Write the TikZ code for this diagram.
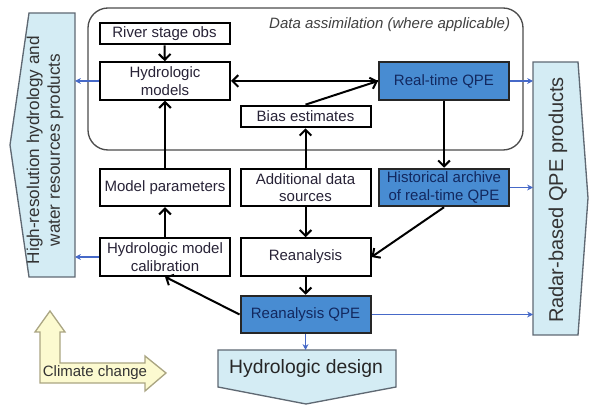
\documentclass[tikz,border=0pt]{standalone}
\usepackage{fontspec}
\setmainfont{Liberation Sans}
\usetikzlibrary{arrows.meta, calc}
\definecolor{QpeColor}{RGB}{72,140,210}
\definecolor{QpeText}{RGB}{18,40,95}
\definecolor{ProductColor}{RGB}{212,236,244}
\definecolor{ProductLine}{RGB}{95,105,115}
\definecolor{FlowColor}{RGB}{70,105,200}
\definecolor{ClimateColor}{RGB}{252,250,208}
\definecolor{ClimateLine}{RGB}{170,165,130}
\definecolor{TextColor}{RGB}{40,35,55}
\tikzstyle{flow} = [line width=1.2pt, -{Straight Barb[length=3.5pt,width=7pt]}]
\tikzstyle{out flow} = [FlowColor, line width=0.9pt, -{Stealth[length=3.5pt,width=3.5pt]}]
\tikzset{
  procbox/.style={draw=black, line width=1.2pt, fill=white, minimum width=78pt, minimum height=22.5pt, align=center, inner sep=1pt, text=TextColor, font=\fontsize{9}{10.5}\selectfont},
  lowbox/.style={procbox, minimum height=13pt},
  qpebox/.style={procbox, fill=QpeColor, draw=black!85, text=QpeText},
  product/.style={fill=ProductColor, draw=ProductLine, line width=0.8pt},
  assim frame/.style={draw=black!70, line width=0.8pt, rounded corners=12pt}
}

\begin{document}
\begin{tikzpicture}[x=0.6pt, y=-0.6pt]
    \useasboundingbox (0,0) rectangle (589,405);

    % Data assimilation frame
    \draw[assim frame] (88,8) rectangle (523,150);
    \node[anchor=east, text=black!75, font=\itshape\fontsize{9}{10}\selectfont] (assimlabel) at (516,25) {Data assimilation (where applicable)};

    % Product shapes
    \draw[product] (75,13) -- (29,13) -- (10,145) -- (29,277) -- (75,277) -- cycle;
    \node[rotate=90, align=center, text=black!80, font=\fontsize{10.3}{12.5}\selectfont] (hires) at (45,150) {High-resolution hydrology and\\water resources products};
    \coordinate (hiresR) at (75,0);

    \draw[product] (533,62) -- (578,62) -- (588,198) -- (578,335) -- (533,335) -- cycle;
    \node[rotate=90, text=black!80, font=\fontsize{12}{14}\selectfont] (radar) at (558,200) {Radar-based QPE products};
    \coordinate (radarL) at (533,0);

    \draw[product] (218,350) -- (396,350) -- (396,387) -- (306,404) -- (218,387) -- cycle;
    \node[text=black!85, font=\fontsize{11.6}{13}\selectfont] (design) at (306,369) {Hydrologic design};
    \coordinate (designTop) at (306,350);

    % Climate change arrows
    \draw[fill=ClimateColor, draw=ClimateLine, line width=0.8pt] (40,383) -- (145,383) -- (145,391) -- (166,373) -- (145,356) -- (145,363) -- (60,363) -- (60,332) -- (65,332) -- (50,311) -- (35,332) -- (40,332) -- cycle;
    \node[text=black!80, font=\fontsize{9}{10}\selectfont] (climate) at (95,373) {Climate change};

    % Process boxes
    \node[lowbox] (river) at (164.5,33.5) {River stage obs};
    \node[procbox] (hydro) at (165,81) {Hydrologic\\models};
    \node[lowbox] (bias) at (305.5,116.5) {Bias estimates};
    \node[qpebox] (rtqpe) at (444,81) {Real-time QPE};
    \node[procbox] (modpar) at (165,187.5) {Model parameters};
    \node[procbox] (adddata) at (305.5,187.5) {Additional data\\sources};
    \node[qpebox] (hist) at (444,187.5) {Historical archive\\of real-time QPE};
    \node[procbox] (calib) at (165,257) {Hydrologic model\\calibration};
    \node[procbox] (rean) at (305.5,257) {Reanalysis};
    \node[qpebox] (reanqpe) at (305.5,314.5) {Reanalysis QPE};

    % Process flow
    \draw[flow] (river) -- (hydro);
    \draw[flow] (rtqpe.west) -- (hydro.east);
    \draw[flow] (bias.north) -- (rtqpe.west);
    \draw[flow] (adddata) -- (bias);
    \draw[flow] (rtqpe) -- (hist);
    \draw[flow] (adddata) -- (rean);
    \draw[flow] (hist.south) -- (rean.east);
    \draw[flow] (rean) -- (reanqpe);
    \draw[flow] (reanqpe.west) -- (calib.south);
    \draw[flow] (calib) -- (modpar);
    \draw[flow] (modpar) -- (hydro);

    % Products
    \draw[out flow] (hydro.west) -- (hydro.west -| hiresR);
    \draw[out flow] (calib.west) -- (calib.west -| hiresR);
    \draw[out flow] (rtqpe.east) -- (rtqpe.east -| radarL);
    \draw[out flow] (hist.east) -- (hist.east -| radarL);
    \draw[out flow] (reanqpe.east) -- (reanqpe.east -| radarL);
    \draw[out flow] (reanqpe.south) -- (reanqpe.south |- designTop);
\end{tikzpicture}
\end{document}
